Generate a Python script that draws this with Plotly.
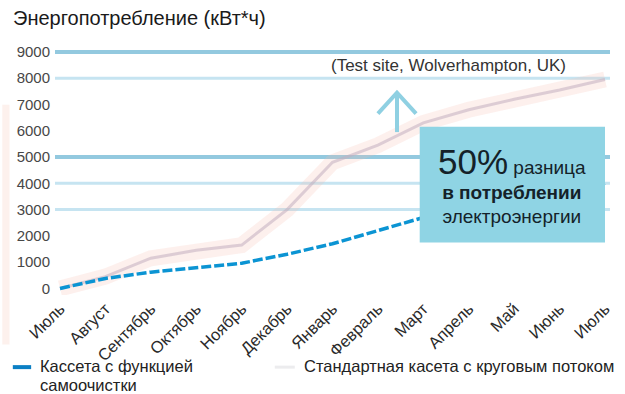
import plotly.graph_objects as go

# Months on the x axis (July to July)
months = ["Июль", "Август", "Сентябрь", "Октябрь", "Ноябрь", "Декабрь",
          "Январь", "Февраль", "Март", "Апрель", "Май", "Июнь", "Июль"]

# Cumulative energy consumption, kWh
standard_kwh = [0, 450, 1150, 1450, 1650, 3000, 4800, 5450, 6300, 6800, 7200, 7550, 7950]
selfclean_kwh = [0, 380, 620, 800, 960, 1300, 1700, 2200, 2700, 3050, 3400, 3700, 4000]

y_ticks = [0, 1000, 2000, 3000, 4000, 5000, 6000, 7000, 8000, 9000]

# Horizontal reference lines: (value, colour, width)
ref_lines = [(9000, "#93c9df", 4), (8000, "#c6e4f1", 3), (5000, "#93c9df", 4),
             (4000, "#c6e4f1", 3), (3000, "#c6e4f1", 3)]

x_idx = list(range(len(months)))
font = "Liberation Sans, Arial, sans-serif"

fig = go.Figure()

# Standard cassette: soft, hazy line
fig.add_trace(go.Scatter(x=x_idx, y=standard_kwh, mode="lines",
                         line=dict(color="rgba(245,185,175,0.22)", width=16),
                         hoverinfo="skip", showlegend=False))
fig.add_trace(go.Scatter(x=x_idx, y=standard_kwh, mode="lines",
                         line=dict(color="rgba(195,175,192,0.55)", width=3),
                         showlegend=False))

# Self-cleaning cassette: dashed blue line
fig.add_trace(go.Scatter(x=x_idx, y=selfclean_kwh, mode="lines",
                         line=dict(color="#0b94d3", width=3.5, dash="10px,3px"),
                         showlegend=False))

shapes = []
for val, col, w in ref_lines:
    shapes.append(dict(type="line", xref="paper", x0=0, x1=1, yref="y", y0=val, y1=val,
                       line=dict(color=col, width=w), layer="below"))

# Faint band along the left edge
shapes.append(dict(type="rect", xref="paper", yref="paper", x0=-0.095, x1=-0.082,
                   y0=-0.2, y1=0.77, fillcolor="rgba(250,225,215,0.45)",
                   line=dict(width=0), layer="below"))

# Highlight box with the difference note
shapes.append(dict(type="rect", xref="x", yref="y", x0=7.92, x1=12.0, y0=1750, y1=6150,
                   fillcolor="#8fd4e4", line=dict(width=0), layer="above"))

# Upward arrow
arrow_col = "#8fd0e2"
shapes.append(dict(type="line", xref="x", yref="y", x0=7.42, x1=7.42, y0=5950, y1=7450,
                   line=dict(color=arrow_col, width=4)))
shapes.append(dict(type="path", xref="x", yref="y",
                   path="M 7.0 6650 L 7.42 7450 L 7.84 6650",
                   line=dict(color=arrow_col, width=4)))

# Legend swatches
shapes.append(dict(type="line", xref="paper", yref="paper", x0=-0.076, x1=-0.043,
                   y0=-0.292, y1=-0.292, line=dict(color="#0b7fc4", width=4)))
shapes.append(dict(type="line", xref="paper", yref="paper", x0=0.396, x1=0.432,
                   y0=-0.292, y1=-0.292, line=dict(color="#ececee", width=3)))

legend_font = dict(family=font, size=16.5, color="#222222")

annotations = [
    dict(text="Энергопотребление (кВт*ч)", xref="paper", yref="paper",
         x=-0.079, y=1.068, xanchor="left", yanchor="bottom", showarrow=False,
         font=dict(family=font, size=20, color="#1a1a1a")),
    dict(text="(Test site, Wolverhampton, UK)", xref="x", yref="y",
         x=8.55, y=8500, xanchor="center", yanchor="middle", showarrow=False,
         font=dict(family=font, size=17, color="#333333")),
    dict(text="<span style='font-size:35px'>50%</span> разница<br>"
              "<b>в потреблении</b><br>электроэнергии",
         xref="x", yref="y", x=9.96, y=3950, xanchor="center", yanchor="middle",
         showarrow=False, align="center",
         font=dict(family=font, size=19, color="#142229")),
    dict(text="Кассета с функцией", xref="paper", yref="paper",
         x=-0.03, y=-0.287, xanchor="left", yanchor="middle", showarrow=False,
         align="left", font=legend_font),
    dict(text="самоочистки", xref="paper", yref="paper",
         x=-0.03, y=-0.366, xanchor="left", yanchor="middle", showarrow=False,
         align="left", font=legend_font),
    dict(text="Стандартная касета с круговым потоком", xref="paper", yref="paper",
         x=0.445, y=-0.287, xanchor="left", yanchor="middle", showarrow=False,
         align="left", font=legend_font),
]

fig.update_layout(
    width=625, height=394,
    margin=dict(l=55, r=15, t=48, b=99),
    paper_bgcolor="white", plot_bgcolor="white",
    showlegend=False,
    shapes=shapes, annotations=annotations,
    xaxis=dict(range=[-0.11, 12.11], tickmode="array", tickvals=x_idx, ticktext=months,
               tickangle=-45, showgrid=False, zeroline=False, showline=False, ticks="",
               tickfont=dict(family=font, size=16.5, color="#2a2a2a")),
    yaxis=dict(range=[-250, 9150], tickvals=y_ticks, showgrid=False, zeroline=False,
               showline=False, ticks="", ticklabelstandoff=4,
               tickfont=dict(family=font, size=15, color="#474747")),
)

fig.write_html("out.html")
